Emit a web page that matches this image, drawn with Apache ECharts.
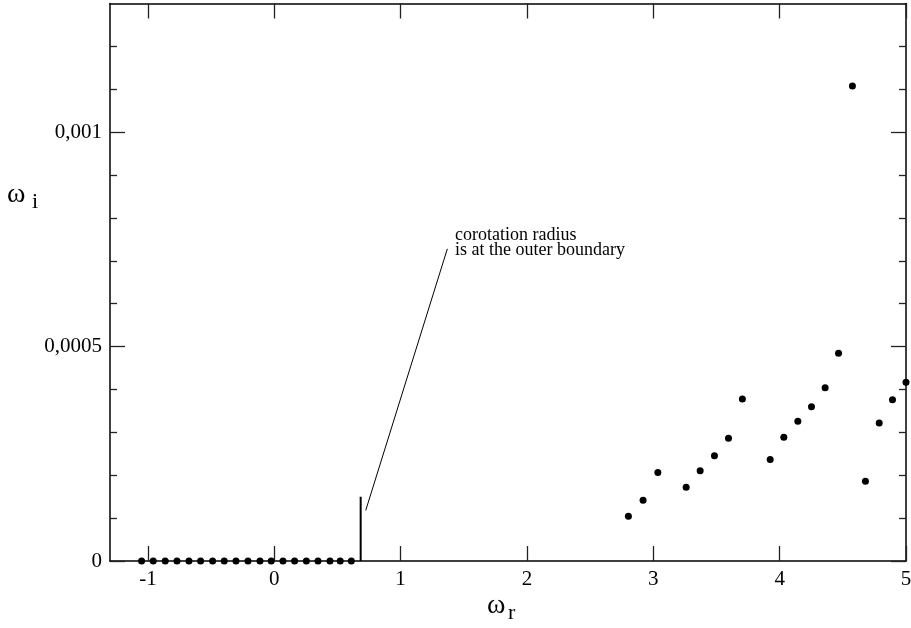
<!DOCTYPE html>
<html>
<head>
<meta charset="utf-8">
<script src="https://cdn.jsdelivr.net/npm/echarts@6/dist/echarts.min.js"></script>
<style>html,body{margin:0;padding:0;background:#fff}#c{width:911px;height:628px}</style>
</head>
<body>
<div id="c"></div>
<script>
// ---- data ----
const xTicks = [-1, 0, 1, 2, 3, 4, 5];
const yMajorTicks = [0, 0.0005, 0.001];
const yMinorTicks = [0.0001, 0.0002, 0.0003, 0.0004, 0.0006, 0.0007, 0.0008, 0.0009, 0.0011, 0.0012];
const zeroModesX = [-1.050, -0.958, -0.863, -0.770, -0.675, -0.583, -0.488, -0.396, -0.303, -0.208, -0.113, -0.024, 0.069, 0.161, 0.254, 0.346, 0.441, 0.522, 0.610];
const zeroModesY = [0, 0, 0, 0, 0, 0, 0, 0, 0, 0, 0, 0, 0, 0, 0, 0, 0, 0, 0];
const modesX = [2.803, 2.919, 3.036, 3.260, 3.371, 3.484, 3.595, 3.705, 3.925, 4.033, 4.144, 4.252, 4.360, 4.466, 4.576, 4.679, 4.788, 4.893, 5.0];
const modesY = [1.044e-4, 1.418e-4, 2.065e-4, 1.722e-4, 2.103e-4, 2.453e-4, 2.86e-4, 3.778e-4, 2.369e-4, 2.883e-4, 3.257e-4, 3.598e-4, 4.042e-4, 4.846e-4, 1.1075e-3, 1.862e-4, 3.217e-4, 3.762e-4, 4.168e-4];
const corotX = [0.684, 0.684];
const corotY = [0, 0.00015];
const pointerX = [0.724, 1.37];
const pointerY = [0.000118, 0.000728];
const annotationLines = ['corotation radius', 'is at the outer boundary'];
const xName = ['ω', 'r'];
const yName = ['ω', 'i'];

const XMIN = -1.3, XMAX = 5, YMIN = 0, YMAX = 0.0013;
const SERIF = '"Liberation Serif", "DejaVu Serif", serif';
const pairs = (xs, ys) => xs.map((x, i) => [x, ys[i]]);

const chart = echarts.init(document.getElementById('c'));
const axisLine = { show: true, onZero: false, lineStyle: { color: '#000', width: 1.5 } };
const tickStyle = { color: '#222', width: 1.3 };
const baseX = (pos, withLabels) => ({
  type: 'value', position: pos, min: XMIN, max: XMAX,
  axisLine: axisLine,
  splitLine: { show: false },
  axisTick: { show: true, inside: true, length: 15, customValues: xTicks, lineStyle: tickStyle },
  axisLabel: withLabels ? { show: true, customValues: xTicks, margin: 8, color: '#000', fontFamily: SERIF, fontSize: 21 } : { show: false }
});
const baseY = (pos, ticks, len, withLabels, showLine) => ({
  type: 'value', position: pos, min: YMIN, max: YMAX,
  axisLine: showLine ? axisLine : { show: false, onZero: false },
  splitLine: { show: false },
  axisTick: { show: true, inside: true, length: len, customValues: ticks, lineStyle: tickStyle },
  axisLabel: withLabels ? {
    show: true, customValues: ticks, margin: 8, color: '#000', fontFamily: SERIF, fontSize: 21,
    formatter: v => v === 0 ? '0' : String(+v.toPrecision(6)).replace('.', ',')
  } : { show: false }
});

chart.setOption({
  animation: false,
  backgroundColor: '#fff',
  grid: { left: 110, right: 5, top: 3.5, bottom: 67, containLabel: false, outerBoundsMode: 'none' },
  xAxis: [baseX('bottom', true), baseX('top', false)],
  yAxis: [
    baseY('left', yMajorTicks, 15, true, true),
    baseY('left', yMinorTicks, 7, false, false),
    baseY('right', yMajorTicks, 15, false, true),
    baseY('right', yMinorTicks, 7, false, false)
  ],
  series: [
    { type: 'scatter', data: pairs(zeroModesX, zeroModesY), symbolSize: 7, itemStyle: { color: '#000', opacity: 1 }, clip: false, z: 5 },
    { type: 'scatter', data: pairs(modesX, modesY), symbolSize: 7, itemStyle: { color: '#000', opacity: 1 }, clip: false, z: 5 },
    { type: 'line', data: pairs(corotX, corotY), symbol: 'none', lineStyle: { color: '#000', width: 2 } },
    { type: 'line', data: pairs(pointerX, pointerY), symbol: 'none', lineStyle: { color: '#000', width: 1 } }
  ],
  graphic: [
    { type: 'text', left: 455, top: 226, style: { text: annotationLines[0], font: '18px ' + SERIF, fill: '#000' } },
    { type: 'text', left: 455, top: 241.5, style: { text: annotationLines[1], font: '18px ' + SERIF, fill: '#000' } },
    { type: 'text', left: 487, top: 592, style: { text: xName[0], font: '28px ' + SERIF, fill: '#000' } },
    { type: 'text', left: 508, top: 602.5, style: { text: xName[1], font: '22px ' + SERIF, fill: '#000' } },
    { type: 'text', left: 7, top: 181, style: { text: yName[0], font: '28px ' + SERIF, fill: '#000' } },
    { type: 'text', left: 32, top: 191.5, style: { text: yName[1], font: '22px ' + SERIF, fill: '#000' } }
  ]
});
</script>
</body>
</html>
